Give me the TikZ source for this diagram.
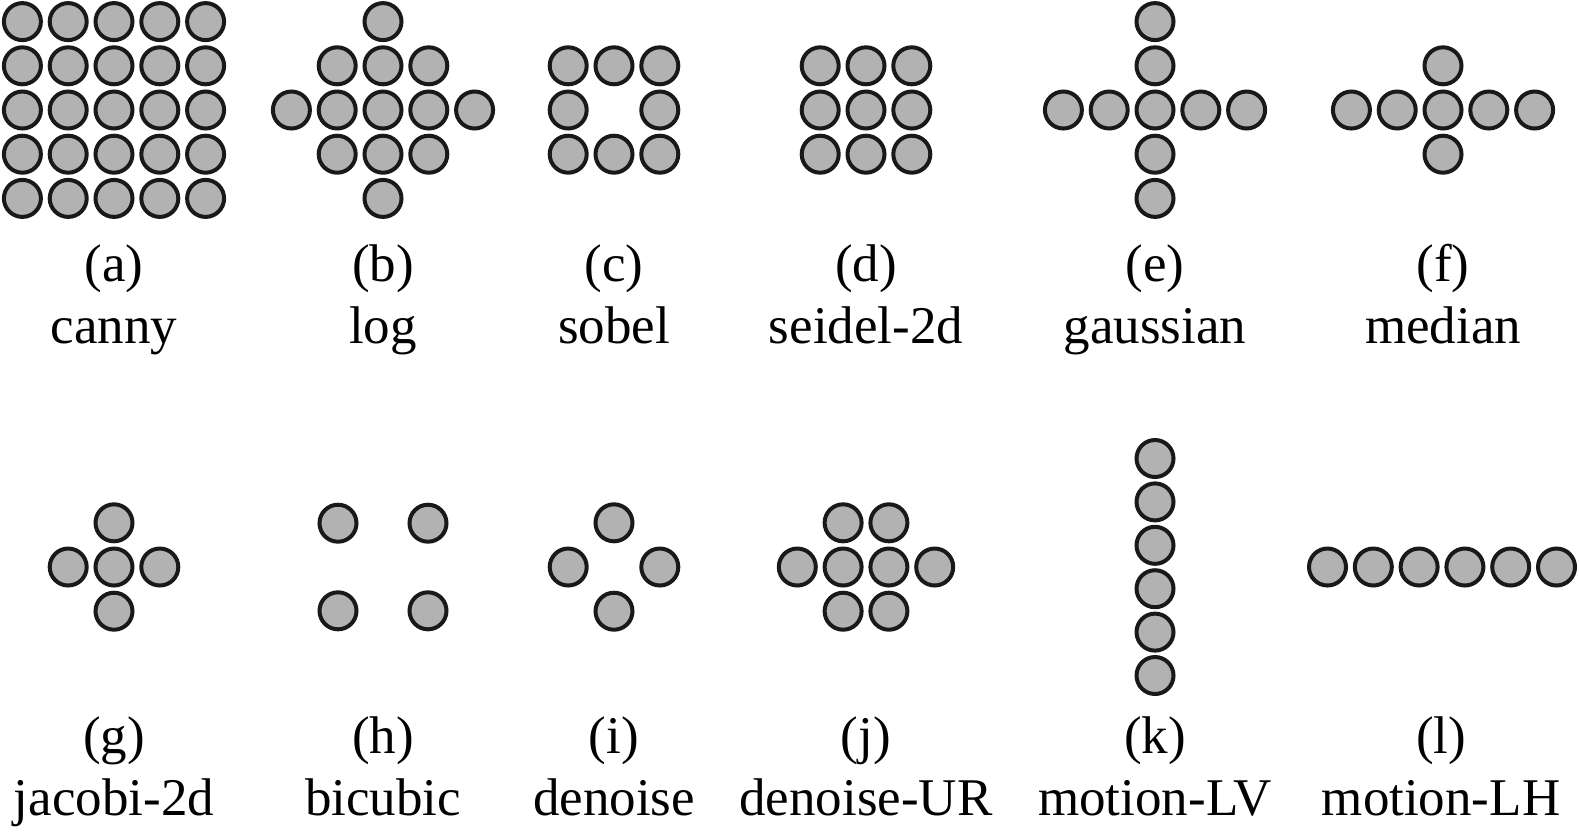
\documentclass[tikz,border=0pt]{standalone}
\usepackage{fontspec}
\setmainfont{Liberation Serif}
\tikzset{
  pix/.style={circle,draw=black!90,fill=black!30,line width=2pt,inner sep=0pt,minimum size=18.5pt},
  lbl/.style={anchor=base,inner sep=0pt,font=\fontsize{26.5}{30}\selectfont},
}
\begin{document}
\begin{tikzpicture}[x=0.5pt,y=-0.5pt]
\useasboundingbox (0,0) rectangle (1579,832);

% top row
\foreach \i in {-2,...,2}
  \foreach \j in {-2,...,2}
    \node[pix] (canny\i\j) at ({114+(\i)*45.8},{110+(\j)*44.2}) {};

\foreach \i/\j in {0/-2,-1/-1,0/-1,1/-1,-2/0,-1/0,0/0,1/0,2/0,-1/1,0/1,1/1,0/2}
    \node[pix] (log\i\j) at ({383+(\i)*45.8},{110+(\j)*44.2}) {};

\foreach \i/\j in {-1/-1,0/-1,1/-1,-1/0,1/0,-1/1,0/1,1/1}
    \node[pix] (sobel\i\j) at ({614+(\i)*45.8},{110+(\j)*44.2}) {};

\foreach \i in {-1,0,1}
  \foreach \j in {-1,0,1}
    \node[pix] (seidel\i\j) at ({866+(\i)*45.8},{110+(\j)*44.2}) {};

\foreach \i/\j in {0/-2,0/-1,-2/0,-1/0,0/0,1/0,2/0,0/1,0/2}
    \node[pix] (gauss\i\j) at ({1155+(\i)*45.8},{110+(\j)*44.2}) {};

\foreach \i/\j in {0/-1,-2/0,-1/0,0/0,1/0,2/0,0/1}
    \node[pix] (median\i\j) at ({1443+(\i)*45.8},{110+(\j)*44.2}) {};

% bottom row
\foreach \i/\j in {0/-1,-1/0,0/0,1/0,0/1}
    \node[pix] (jacobi\i\j) at ({114+(\i)*45.8},{567+(\j)*44.2}) {};

\foreach \i/\j in {-1/-1,1/-1,-1/1,1/1}
    \node[pix] (bicubic\i\j) at ({383+(\i)*45},{567+(\j)*43.8}) {};

\foreach \i/\j in {0/-1,-1/0,1/0,0/1}
    \node[pix] (denoise\i\j) at ({614+(\i)*45.8},{567+(\j)*44.2}) {};

\foreach \i/\j in {-0.5/-1,0.5/-1,-1.5/0,-0.5/0,0.5/0,1.5/0,-0.5/1,0.5/1}
    \node[pix] (denoiseUR\i\j) at ({866+(\i)*45.8},{567+(\j)*44.2}) {};

\foreach \j in {-2.5,-1.5,-0.5,0.5,1.5,2.5}
    \node[pix] (motionLV\j) at (1155,{567+(\j)*43.4}) {};

\foreach \i in {-2.5,-1.5,-0.5,0.5,1.5,2.5}
    \node[pix] (motionLH\i) at ({1442+(\i)*45.8},567) {};

% labels
\node[lbl] (tag-a) at (114,281) {(a)};
\node[lbl] (name-a) at (114,343) {canny};
\node[lbl] (tag-b) at (383,281) {(b)};
\node[lbl] (name-b) at (383,343) {log};
\node[lbl] (tag-c) at (614,281) {(c)};
\node[lbl] (name-c) at (614,343) {sobel};
\node[lbl] (tag-d) at (866,281) {(d)};
\node[lbl] (name-d) at (866,343) {seidel-2d};
\node[lbl] (tag-e) at (1155,281) {(e)};
\node[lbl] (name-e) at (1155,343) {gaussian};
\node[lbl] (tag-f) at (1443,281) {(f)};
\node[lbl] (name-f) at (1443,343) {median};

\node[lbl] (tag-g) at (114,753) {(g)};
\node[lbl] (name-g) at (114,815) {jacobi-2d};
\node[lbl] (tag-h) at (383,753) {(h)};
\node[lbl] (name-h) at (383,815) {bicubic};
\node[lbl] (tag-i) at (614,753) {(i)};
\node[lbl] (name-i) at (614,815) {denoise};
\node[lbl] (tag-j) at (866,753) {(j)};
\node[lbl] (name-j) at (866,815) {denoise-UR};
\node[lbl] (tag-k) at (1155,753) {(k)};
\node[lbl] (name-k) at (1155,815) {motion-LV};
\node[lbl] (tag-l) at (1441,753) {(l)};
\node[lbl] (name-l) at (1441,815) {motion-LH};

\end{tikzpicture}
\end{document}
